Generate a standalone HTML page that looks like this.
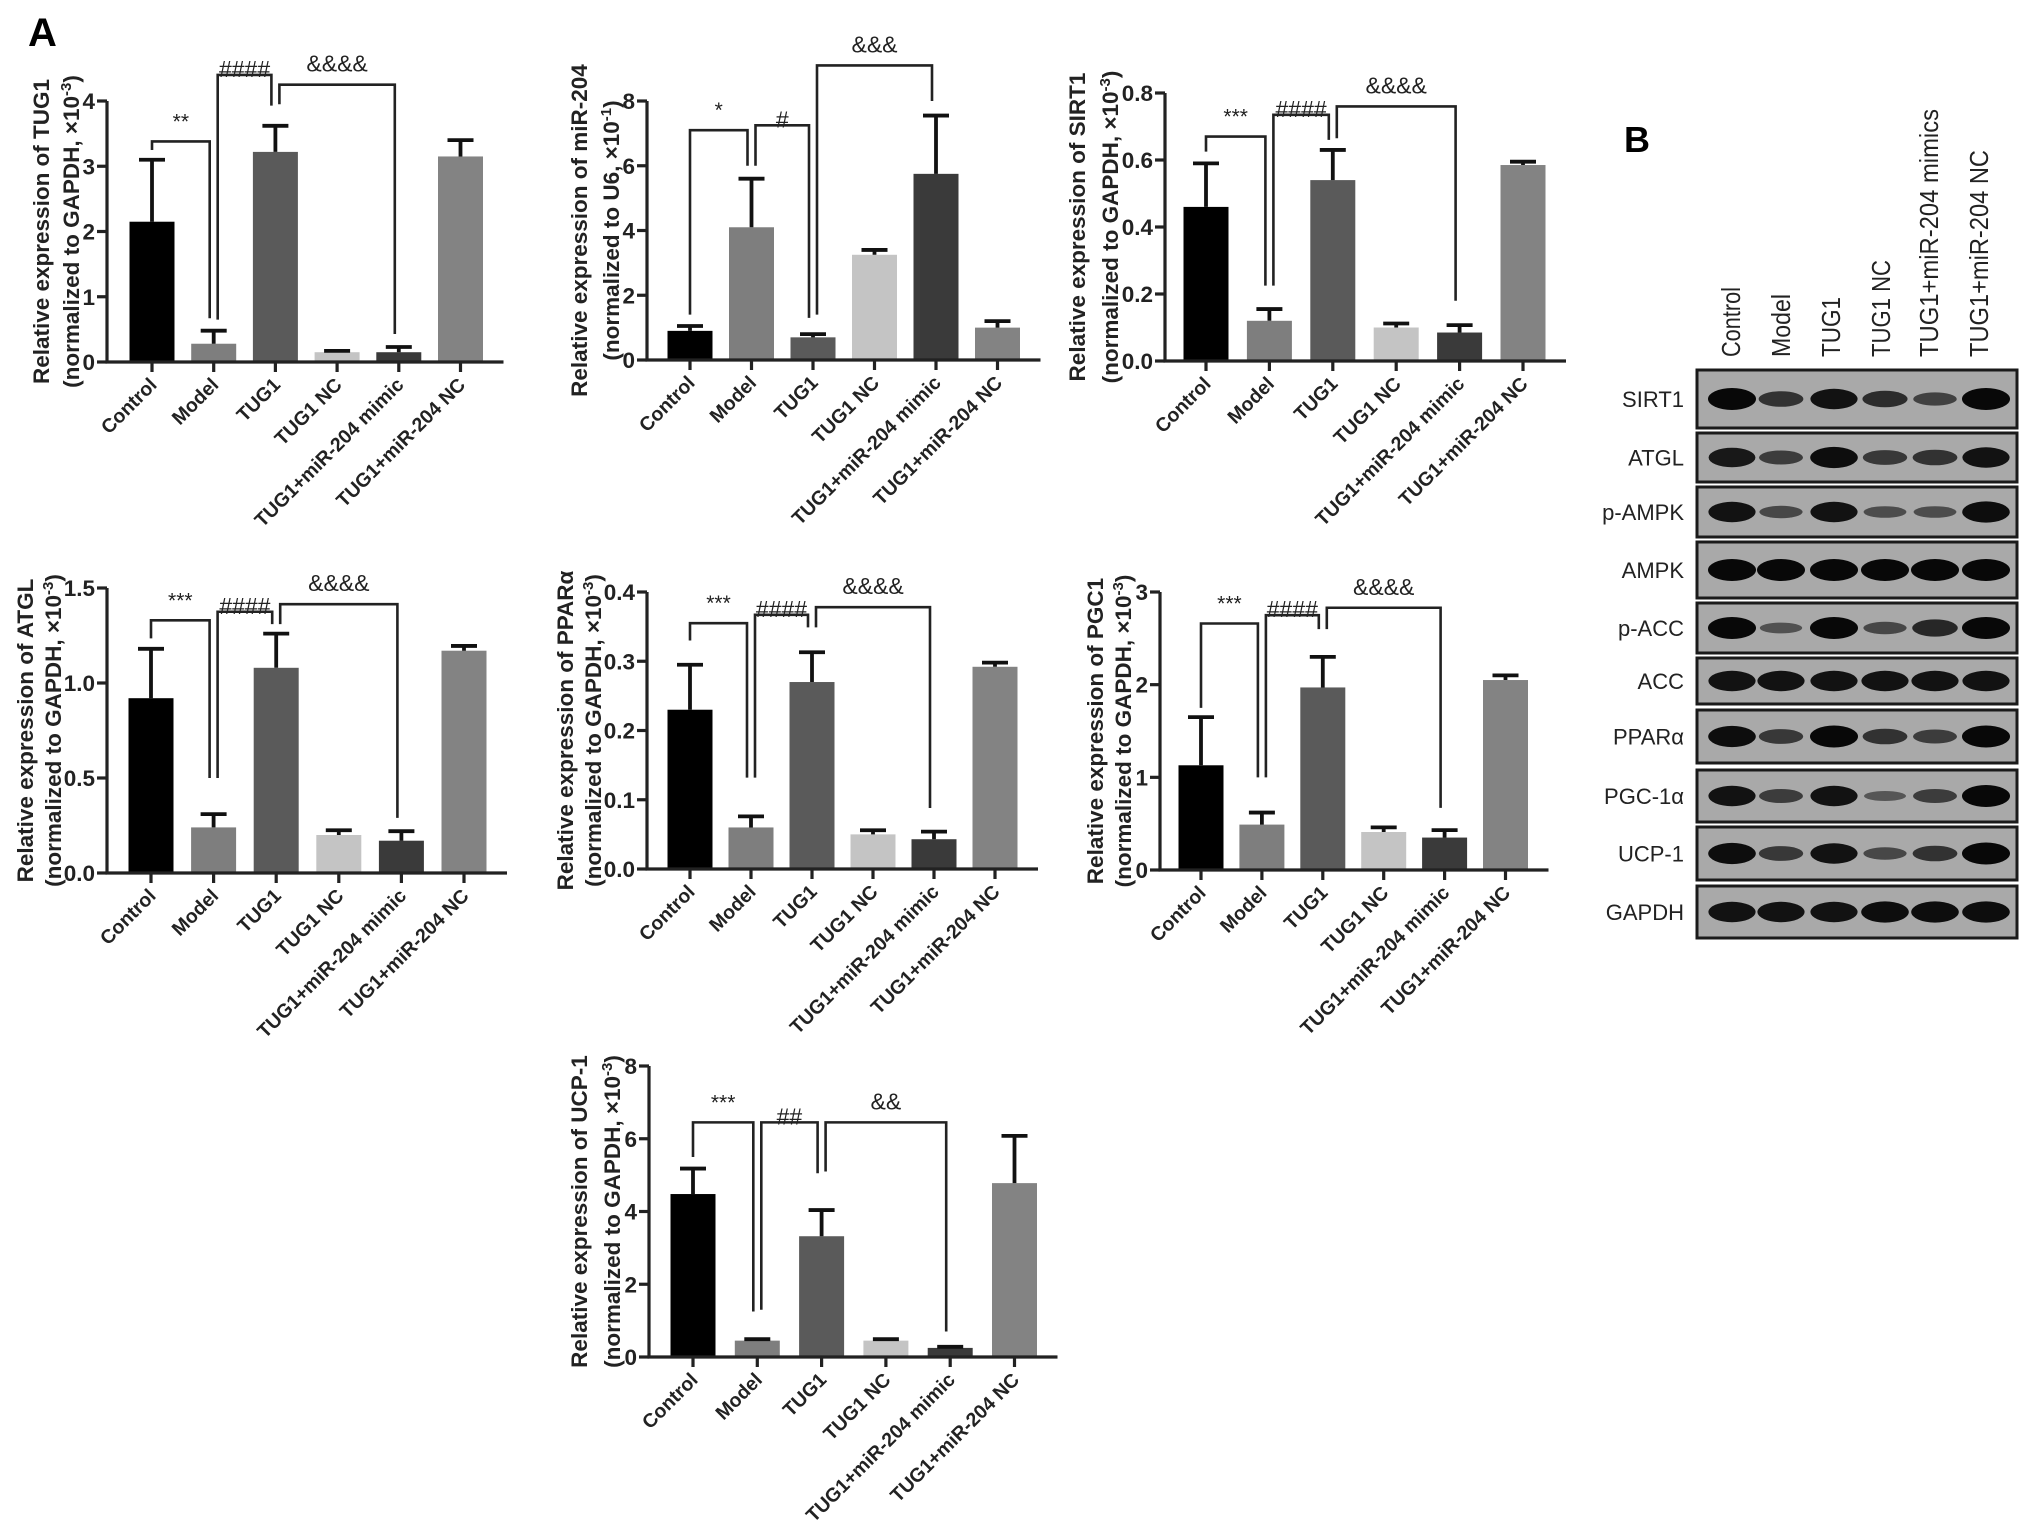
<!DOCTYPE html>
<html><head><meta charset="utf-8">
<style>
html,body{margin:0;padding:0;background:#fff;}
svg{display:block;font-family:"Liberation Sans",Arial,sans-serif;}
</style></head>
<body>
<svg id="fig" width="2031" height="1524" viewBox="0 0 2031 1524" xmlns="http://www.w3.org/2000/svg">
<rect x="0" y="0" width="2031" height="1524" fill="#fff"/>
<text x="28" y="46" font-size="40" font-weight="bold">A</text>
<text x="1624" y="152" font-size="36" font-weight="bold">B</text>
<g id="charts"></g>
<g id="blot"></g>
</svg>
<script>
// ---------- Chart data ----------
const categories = ["Control","Model","TUG1","TUG1 NC","TUG1+miR-204 mimic","TUG1+miR-204 NC"];
const barColors = ["#000000","#7e7e7e","#5a5a5a","#c4c4c4","#3a3a3a","#838383"];

const tug1Values = [2.15,0.28,3.22,0.15,0.15,3.15];
const tug1Errors = [0.95,0.2,0.4,0.02,0.08,0.25];
const tug1Ticks = ["0","1","2","3","4"];

const mir204Values = [0.9,4.1,0.7,3.25,5.75,1.0];
const mir204Errors = [0.15,1.5,0.1,0.15,1.8,0.2];
const mir204Ticks = ["0","2","4","6","8"];

const sirt1Values = [0.46,0.12,0.54,0.10,0.085,0.585];
const sirt1Errors = [0.13,0.035,0.09,0.012,0.022,0.01];
const sirt1Ticks = ["0.0","0.2","0.4","0.6","0.8"];

const atglValues = [0.92,0.24,1.08,0.2,0.17,1.17];
const atglErrors = [0.26,0.07,0.18,0.025,0.05,0.025];
const atglTicks = ["0.0","0.5","1.0","1.5"];

const pparValues = [0.23,0.06,0.27,0.05,0.043,0.292];
const pparErrors = [0.065,0.016,0.043,0.006,0.011,0.006];
const pparTicks = ["0.0","0.1","0.2","0.3","0.4"];

const pgc1Values = [1.13,0.49,1.97,0.41,0.35,2.05];
const pgc1Errors = [0.52,0.13,0.33,0.05,0.08,0.05];
const pgc1Ticks = ["0","1","2","3"];

const ucp1Values = [4.48,0.45,3.32,0.45,0.25,4.78];
const ucp1Errors = [0.7,0.04,0.72,0.04,0.03,1.3];
const ucp1Ticks = ["0","2","4","6","8"];

// brackets: [from, to, topValue, leftEndValue, rightEndValue, label]
const tug1Brackets = [[0,1,3.38,3.25,0.67,"**"],[1,2,4.4,0.65,3.93,"####"],[2,4,4.25,3.95,0.43,"&&&&"]];
const mir204Brackets = [[0,1,7.1,1.4,6.0,"*"],[1,2,7.25,6.0,1.3,"#"],[2,4,9.1,1.4,8.0,"&&&"]];
const sirt1Brackets = [[0,1,0.67,0.625,0.225,"***"],[1,2,0.735,0.225,0.66,"####"],[2,4,0.76,0.665,0.18,"&&&&"]];
const atglBrackets = [[0,1,1.33,1.235,0.5,"***"],[1,2,1.375,0.5,1.31,"####"],[2,4,1.415,1.31,0.29,"&&&&"]];
const pparBrackets = [[0,1,0.355,0.33,0.132,"***"],[1,2,0.367,0.132,0.349,"####"],[2,4,0.378,0.349,0.088,"&&&&"]];
const pgc1Brackets = [[0,1,2.66,1.75,1.0,"***"],[1,2,2.75,1.0,2.6,"####"],[2,4,2.83,2.6,0.67,"&&&&"]];
const ucp1Brackets = [[0,1,6.45,5.5,1.25,"***"],[1,2,6.45,1.3,5.05,"##"],[2,4,6.45,5.1,0.7,"&&"]];

// ---------- Blot data ----------
const blotProteins = ["SIRT1","ATGL","p-AMPK","AMPK","p-ACC","ACC","PPARα","PGC-1α","UCP-1","GAPDH"];
const blotLanes = ["Control","Model","TUG1","TUG1 NC","TUG1+miR-204 mimics","TUG1+miR-204 NC"];
const blotSirt1 = [1,0.6,0.9,0.65,0.45,1];
const blotAtgl = [0.85,0.5,0.95,0.55,0.6,0.9];
const blotPampk = [0.9,0.4,0.9,0.35,0.35,0.95];
const blotAmpk = [1,1,1,1,1,1];
const blotPacc = [1,0.3,1,0.4,0.7,1];
const blotAcc = [0.9,0.9,0.9,0.9,0.9,0.9];
const blotPpar = [0.95,0.55,1,0.6,0.5,1];
const blotPgc = [0.9,0.5,0.9,0.25,0.5,1];
const blotUcp = [0.95,0.55,0.9,0.4,0.6,1];
const blotGapdh = [0.9,0.9,0.9,0.95,0.95,0.95];
const blotIntensities = [blotSirt1,blotAtgl,blotPampk,blotAmpk,blotPacc,blotAcc,blotPpar,blotPgc,blotUcp,blotGapdh];

// ---------- Layouts (pixels) ----------
const layouts = [
 {id:"tug1", values:tug1Values, errors:tug1Errors, ticks:tug1Ticks, brackets:tug1Brackets, axisX:107, zeroY:362, topY:101, first:45, spacing:61.7, o1:66, o2:36, t1:"Relative expression of TUG1", t2a:"(normalized to GAPDH, ×10", sup:"-3"},
 {id:"mir204", values:mir204Values, errors:mir204Errors, ticks:mir204Ticks, brackets:mir204Brackets, axisX:647, zeroY:360, topY:101, first:43, spacing:61.5, o1:68, o2:36, t1:"Relative expression of miR-204", t2a:"(normalized to U6, ×10", sup:"-1"},
 {id:"sirt1", values:sirt1Values, errors:sirt1Errors, ticks:sirt1Ticks, brackets:sirt1Brackets, axisX:1165, zeroY:361, topY:93, first:41, spacing:63.4, o1:88, o2:55, t1:"Relative expression of SIRT1", t2a:"(normalized to GAPDH, ×10", sup:"-3"},
 {id:"atgl", values:atglValues, errors:atglErrors, ticks:atglTicks, brackets:atglBrackets, axisX:107, zeroY:873, topY:588, first:44, spacing:62.6, o1:82, o2:54, t1:"Relative expression of ATGL", t2a:"(normalized to GAPDH, ×10", sup:"-3"},
 {id:"ppar", values:pparValues, errors:pparErrors, ticks:pparTicks, brackets:pparBrackets, axisX:647, zeroY:869, topY:592, first:43, spacing:61, o1:82, o2:54, t1:"Relative expression of PPARα", t2a:"(normalized to GAPDH, ×10", sup:"-3"},
 {id:"pgc1", values:pgc1Values, errors:pgc1Errors, ticks:pgc1Ticks, brackets:pgc1Brackets, axisX:1160, zeroY:870, topY:592, first:41, spacing:60.9, o1:65, o2:37, t1:"Relative expression of  PGC1", t2a:"(normalized to GAPDH, ×10", sup:"-3"},
 {id:"ucp1", values:ucp1Values, errors:ucp1Errors, ticks:ucp1Ticks, brackets:ucp1Brackets, axisX:649, zeroY:1357, topY:1066, first:44, spacing:64.3, o1:70, o2:37, t1:"Relative expression of UCP-1", t2a:"(normalized to GAPDH, ×10", sup:"-3"}
];

const NS = "http://www.w3.org/2000/svg";
function mk(tag, attrs, parent){
  const e = document.createElementNS(NS, tag);
  for (const k in attrs) e.setAttribute(k, attrs[k]);
  if (parent) parent.appendChild(e);
  return e;
}

const chartsG = document.getElementById("charts");
layouts.forEach(L => {
  const g = mk("g", {}, chartsG);
  
  
  const maxV = parseFloat(L.ticks[L.ticks.length-1]);
  const y = v => L.zeroY - (v / maxV) * (L.zeroY - L.topY);
  const x = i => L.axisX + L.first + i * L.spacing;
  const endX = x(5) + 43;
  const bw = 45;

  L.values.forEach((v, i) => {
    const b = mk("rect", {x: x(i)-bw/2, y: y(v), width: bw, height: L.zeroY - y(v), fill: barColors[i]}, g);
    
    
    const top = y(v + L.errors[i]);
    const eb = mk("path", {d:`M${x(i)} ${y(v)} V${top} M${x(i)-13} ${top} H${x(i)+13}`, stroke:"#111", "stroke-width":3.8, fill:"none"}, g);
    
    
  });

  const ax = mk("path", {d:`M${L.axisX} ${L.topY} V${L.zeroY} H${endX}`, stroke:"#222", "stroke-width":3.2, fill:"none"}, g);
  
  
  L.ticks.forEach((t) => {
    const v = parseFloat(t);
    const ty = y(v);
    mk("line", {x1:L.axisX-10, x2:L.axisX, y1:ty, y2:ty, stroke:"#222", "stroke-width":3.2}, g);
    const tl = mk("text", {x:L.axisX-12, y:ty+8, "text-anchor":"end", "font-size":22.5, "font-weight":"bold", fill:"#222"}, g);
    tl.textContent = t;
    
    
  });
  categories.forEach((c, i) => {
    mk("line", {x1:x(i), x2:x(i), y1:L.zeroY, y2:L.zeroY+10, stroke:"#222", "stroke-width":3.2}, g);
    const cl = mk("text", {x:x(i)+6, y:L.zeroY+24, "text-anchor":"end", "font-size":19.5, "font-weight":"bold", fill:"#222", transform:`rotate(-45 ${x(i)+6} ${L.zeroY+24})`}, g);
    cl.textContent = c;
    
    
  });

  const midY = (L.topY + L.zeroY) / 2;
  const tx1 = L.axisX - L.o1 + 8, tx2 = L.axisX - L.o2 + 8;
  const t1 = mk("text", {x:tx1, y:midY, "text-anchor":"middle", "font-size":22.5, "font-weight":"bold", fill:"#222", transform:`rotate(-90 ${tx1} ${midY})`}, g);
  t1.textContent = L.t1;
  
  
  const t2 = mk("text", {x:tx2, y:midY, "text-anchor":"middle", "font-size":22.5, "font-weight":"bold", fill:"#222", transform:`rotate(-90 ${tx2} ${midY})`}, g);
  
  
  const s1 = mk("tspan", {}, t2); s1.textContent = L.t2a;
  const s2 = mk("tspan", {"baseline-shift":"super", "font-size":15}, t2); s2.textContent = L.sup;
  const s3 = mk("tspan", {}, t2); s3.textContent = ")";

  L.brackets.forEach((br, k) => {
    const [a, b, topV, lv, rv, lab] = br;
    const lx = x(a) + (a === 0 ? 0 : 4), rx = x(b) - 4;
    const ty = y(topV);
    const p = mk("path", {d:`M${lx} ${y(lv)} V${ty} H${rx} V${y(rv)}`, stroke:"#222", "stroke-width":2.6, fill:"none"}, g);
    
    
    const onLine = lab.startsWith("#");
    const lt = mk("text", {x:(lx+rx)/2, y: onLine ? ty+2 : ty-13, "text-anchor":"middle", "font-size": lab.startsWith("*") ? 21 : 23, fill:"#222"}, g);
    lt.textContent = lab;
    
    
  });
});

// ---------- Western blot ----------
const blotG = document.getElementById("blot");


const rowTops = [370,433,487,542,603,658,710,770,827,886];
const rowBottoms = [428,482,537,598,653,704,763,822,880,938];
const laneX = [1732,1781,1834,1885,1935,1986];
const laneLabelX = [1740,1790,1840,1890,1938,1988];
const laneLabelLen = [70,63,60,97,248,207];
blotLanes.forEach((ln, i) => {
  const t = mk("text", {x:laneLabelX[i], y:357, "font-size":26, fill:"#222", textLength:laneLabelLen[i], lengthAdjust:"spacingAndGlyphs", transform:`rotate(-90 ${laneLabelX[i]} 357)`}, blotG);
  t.textContent = ln;
  
  
});
blotProteins.forEach((p, r) => {
  const top = rowTops[r], bot = rowBottoms[r], mid = (top + bot) / 2;
  const box = mk("rect", {x:1697, y:top, width:320, height:bot-top, fill:"#a9a9a9", stroke:"#1a1a1a", "stroke-width":3}, blotG);
  
  
  const lab = mk("text", {x:1684, y:mid+8, "text-anchor":"end", "font-size":22, fill:"#222"}, blotG);
  lab.textContent = p;
  
  
  blotIntensities[r].forEach((v, i) => {
    const band = mk("ellipse", {cx:laneX[i], cy:mid, rx:20 + 4*v, ry:3 + 8*v, fill:"#080808", opacity:0.35 + 0.65*v}, blotG);
    
    
  });
});
</script>
</body></html>
